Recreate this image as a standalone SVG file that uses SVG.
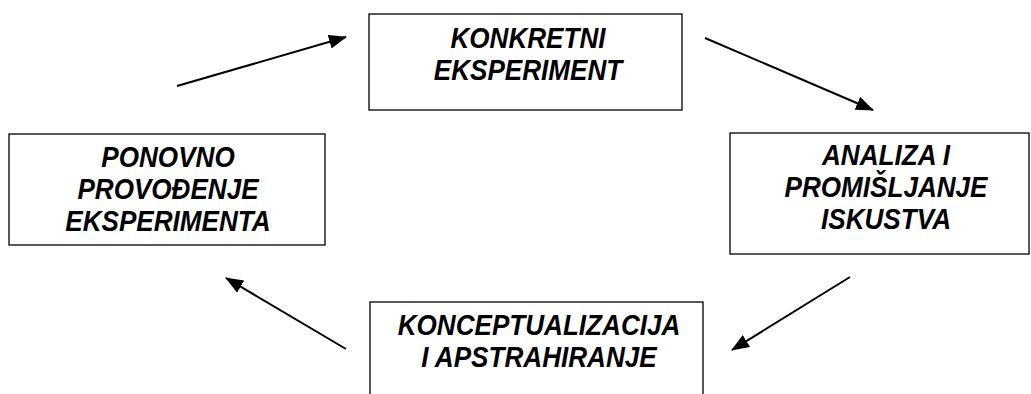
<svg xmlns="http://www.w3.org/2000/svg" width="1031" height="394" viewBox="0 0 1031 394">
  <style>
    .box { fill: #ffffff; stroke: #000000; stroke-width: 1.3; }
    .lbl { font-family: "Liberation Sans", Arial, sans-serif; font-size: 29px; font-weight: bold; font-style: italic; fill: #000000; text-anchor: middle; }
    .conn { stroke: #000000; stroke-width: 2; fill: none; marker-end: url(#head); }
  </style>
  <defs>
    <marker id="head" markerUnits="userSpaceOnUse" markerWidth="18" markerHeight="14" refX="17" refY="7" orient="auto">
      <path d="M0,0 L18,7 L0,14 Z" fill="#000000"/>
    </marker>
  </defs>
  <rect width="1031" height="394" fill="#ffffff"/>

  <g id="konkretni-eksperiment">
    <rect class="box" x="369" y="14" width="313" height="96"/>
    <g transform="translate(528,0) scale(0.9,1)">
      <text class="lbl" x="0" y="48">KONKRETNI</text>
      <text class="lbl" x="0" y="80">EKSPERIMENT</text>
    </g>
  </g>

  <g id="analiza-iskustva">
    <rect class="box" x="730" y="133" width="299" height="121"/>
    <g transform="translate(886,0) scale(0.9,1)">
      <text class="lbl" x="0" y="165">ANALIZA I</text>
      <text class="lbl" x="0" y="197">PROMIŠLJANJE</text>
      <text class="lbl" x="0" y="229">ISKUSTVA</text>
    </g>
  </g>

  <g id="konceptualizacija">
    <rect class="box" x="370" y="302" width="333" height="100"/>
    <g transform="translate(539,0) scale(0.9,1)">
      <text class="lbl" x="0" y="335">KONCEPTUALIZACIJA</text>
      <text class="lbl" x="0" y="367">I APSTRAHIRANJE</text>
    </g>
  </g>

  <g id="ponovno-provodenje">
    <rect class="box" x="9" y="134" width="316" height="111"/>
    <g transform="translate(168,0) scale(0.9,1)">
      <text class="lbl" x="0" y="167">PONOVNO</text>
      <text class="lbl" x="0" y="199">PROVOĐENJE</text>
      <text class="lbl" x="0" y="231">EKSPERIMENTA</text>
    </g>
  </g>

  <g id="connectors">
    <line class="conn" x1="177" y1="86" x2="346" y2="37"/>
    <line class="conn" x1="705" y1="38" x2="873" y2="110"/>
    <line class="conn" x1="850" y1="277" x2="732" y2="350"/>
    <line class="conn" x1="346" y1="349" x2="226" y2="278"/>
  </g>
</svg>
